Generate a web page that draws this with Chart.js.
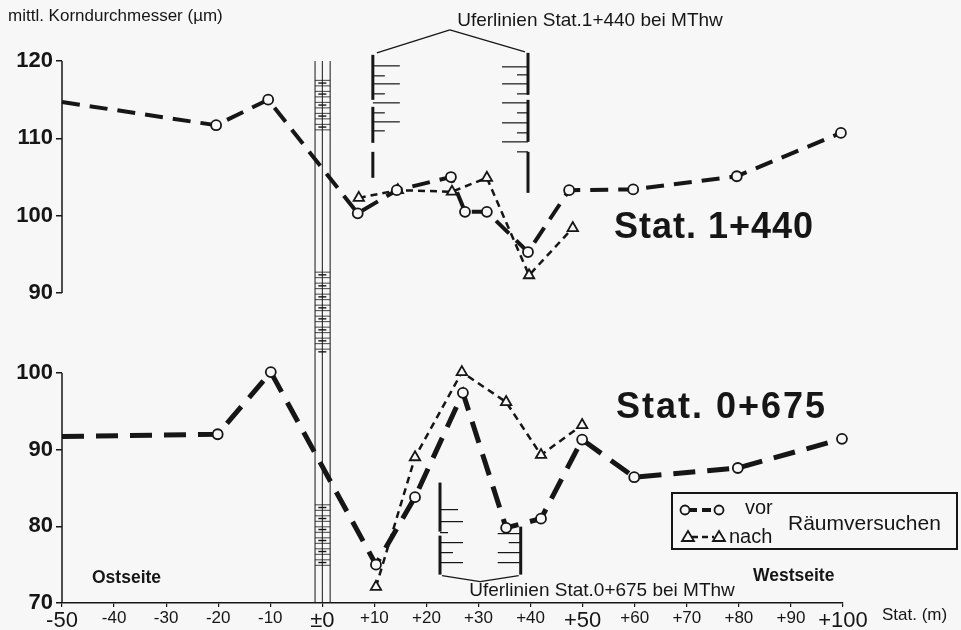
<!DOCTYPE html>
<html>
<head>
<meta charset="utf-8">
<script src="https://cdn.jsdelivr.net/npm/chart.js@4.4.1/dist/chart.umd.min.js"></script>
<style>
  html, body { margin: 0; padding: 0; background: #f7f7f7; }
  canvas { display: block; }
</style>
</head>
<body>
<canvas id="chart" width="961" height="630"></canvas>
<script>
// Stationen (m) und mittl. Korndurchmesser (µm)
// Stat. 1+440 (oben)
const xTopVor = [-50, -20.4, -10.4, 6.8, 14.3, 24.7, 27.4, 31.6, 39.5, 47.4, 59.7, 79.6, 99.6];
const topVor = [114.7, 111.7, 115.0, 100.3, 103.3, 105.0, 100.5, 100.5, 95.3, 103.3, 103.4, 105.1, 110.7];
const xTopNach = [7.0, 14.5, 24.9, 31.6, 39.7, 48.1];
const topNach = [102.3, 103.3, 103.1, 104.9, 92.3, 98.4];

// Stat. 0+675 (unten)
const xBotVor = [-50, -20.1, -9.9, 10.3, 17.8, 27.0, 35.3, 42.0, 49.9, 59.9, 79.8, 99.8];
const botVor = [91.7, 92.0, 100.1, 75.0, 83.8, 97.4, 79.8, 81.0, 91.3, 86.4, 87.6, 91.4];
const xBotNach = [10.3, 17.8, 26.8, 35.3, 42.0, 49.9];
const botNach = [72.1, 89.0, 100.1, 96.2, 89.3, 93.2];

// Achsen
const xTicks = [-50, -40, -30, -20, -10, 0, 10, 20, 30, 40, 50, 60, 70, 80, 90, 100];
const xTickLabels = ['-50', '-40', '-30', '-20', '-10', '±0', '+10', '+20', '+30', '+40', '+50', '+60', '+70', '+80', '+90', '+100'];
const xBigTicks = [-50, 0, 50, 100];
const yTopTicks = [90, 100, 110, 120];
const yBotTicks = [70, 80, 90, 100];

const INK = '#161616';
const BG = '#f7f7f7';
const FONT = '"Liberation Sans", Arial, sans-serif';

const pts = (xs, ys) => xs.map((x, i) => ({ x: x, y: ys[i] }));

function line(ctx, x1, y1, x2, y2) {
  ctx.beginPath();
  ctx.moveTo(x1, y1);
  ctx.lineTo(x2, y2);
  ctx.stroke();
}

function text(ctx, str, x, y, font, align, spacing) {
  ctx.font = font;
  ctx.textAlign = align || 'left';
  ctx.textBaseline = 'middle';
  ctx.letterSpacing = spacing || '0px';
  ctx.fillText(str, x, y);
  ctx.letterSpacing = '0px';
}

const decor = {
  id: 'decor',
  beforeDraw(chart) {
    const ctx = chart.ctx;
    ctx.save();
    ctx.fillStyle = BG;
    ctx.fillRect(0, 0, chart.width, chart.height);
    ctx.restore();
  },
  beforeDatasetsDraw(chart) {
    const { ctx, chartArea: a, scales: { x, yTop, yBot } } = chart;
    ctx.save();
    ctx.strokeStyle = INK;

    // Maßstab bei ±0
    const xl = x.getPixelForValue(-1.4), xc = x.getPixelForValue(0), xr = x.getPixelForValue(1.5);
    ctx.lineWidth = 1;
    [xl, xc, xr].forEach(px => line(ctx, px, yTop.getPixelForValue(120), px, a.bottom));
    const hatch = (y0, y1) => {
      for (let y = y0, i = 0; y <= y1; y += 5.5, i++) {
        ctx.lineWidth = 0.8;
        line(ctx, xl, y, xr, y);
        if (i % 2 === 0) { ctx.lineWidth = 1.4; line(ctx, xc - 4, y + 2.7, xc + 4, y + 2.7); }
      }
    };
    hatch(yTop.getPixelForValue(117.5), yTop.getPixelForValue(110.4));
    hatch(yTop.getPixelForValue(92.7), yTop.getPixelForValue(82.4));
    hatch(yBot.getPixelForValue(82.8), yBot.getPixelForValue(74.3));

    // Uferlinien Stat. 1+440
    const bl = x.getPixelForValue(9.7), br = x.getPixelForValue(39.5);
    const bt = yTop.getPixelForValue(120.8);
    ctx.lineWidth = 3;
    [[0, 45], [52, 88], [97, 123]].forEach(s => line(ctx, bl, bt + s[0], bl, bt + s[1]));
    [[-2, 40], [45, 87], [97, 138]].forEach(s => line(ctx, br, bt + s[0], br, bt + s[1]));
    ctx.lineWidth = 1.2;
    [11, 21, 29, 39, 48, 58, 67, 76].forEach((o, i) => line(ctx, bl, bt + o, bl + (i % 2 ? 12 : 27), bt + o));
    [12, 20, 29, 39, 48, 58, 68, 78, 87, 97].forEach((o, i) => line(ctx, br, bt + o, br - (i % 2 ? 11 : 26), bt + o));
    const ax = x.getPixelForValue(24.5);
    line(ctx, bl + 4, bt - 2, ax, bt - 25);
    line(ctx, ax, bt - 25, br - 3, bt - 3);

    // Uferlinien Stat. 0+675
    const ll = x.getPixelForValue(22.6), lr = x.getPixelForValue(38.1);
    const lb = yBot.getPixelForValue(73.7);
    ctx.lineWidth = 3;
    line(ctx, ll, yBot.getPixelForValue(85.7), ll, lb - 43);
    line(ctx, ll, lb - 39, ll, lb);
    line(ctx, lr, lb - 48, lr, lb);
    ctx.lineWidth = 1.2;
    [[-65, 18], [-53, 23], [-42, 8], [-32, 23], [-22, 13], [-12, 23]].forEach(t => line(ctx, ll, lb + t[0], ll + t[1], lb + t[0]));
    [[-41, 23], [-32, 12], [-22, 23], [-12, 23]].forEach(t => line(ctx, lr, lb + t[0], lr - t[1], lb + t[0]));
    const lx = x.getPixelForValue(30.3);
    line(ctx, ll + 2, lb + 1, lx, lb + 7);
    line(ctx, lx, lb + 7, lr - 2, lb + 1);
    ctx.restore();
  },
  afterDraw(chart) {
    const { ctx, chartArea: a, scales: { yTop, yBot } } = chart;
    ctx.save();
    ctx.strokeStyle = INK;
    ctx.fillStyle = INK;

    // y-Achsen (zwei Abschnitte)
    ctx.lineWidth = 1.5;
    line(ctx, a.left, yTop.getPixelForValue(120), a.left, yTop.getPixelForValue(90));
    line(ctx, a.left, yBot.getPixelForValue(100), a.left, a.bottom);

    text(ctx, 'mittl. Korndurchmesser (µm)', 8, 16, '17px ' + FONT);
    text(ctx, 'Uferlinien Stat.1+440 bei MThw', 590, 21, '19px ' + FONT, 'center');
    text(ctx, 'Uferlinien Stat.0+675 bei MThw', 602, 591, '19px ' + FONT, 'center');
    text(ctx, 'Stat. 1+440', 614, 228, 'bold 36px ' + FONT, 'left', '1px');
    text(ctx, 'Stat. 0+675', 616, 408, 'bold 36px ' + FONT, 'left', '2px');
    text(ctx, 'Ostseite', 92, 578, 'bold 17.5px ' + FONT);
    text(ctx, 'Westseite', 753, 576, 'bold 17.5px ' + FONT);
    text(ctx, 'Stat. (m)', 882, 615, '17px ' + FONT);

    // Legende
    ctx.lineWidth = 2;
    ctx.strokeRect(672, 493, 285, 56);
    ctx.lineWidth = 4;
    ctx.setLineDash([9, 5]);
    line(ctx, 688, 510, 716, 510);
    ctx.lineWidth = 2.5;
    ctx.setLineDash([6, 4]);
    line(ctx, 692, 537, 714, 537);
    ctx.setLineDash([]);
    ctx.lineWidth = 1.8;
    ctx.fillStyle = BG;
    [685, 719].forEach(cx => {
      ctx.beginPath();
      ctx.arc(cx, 510, 4.5, 0, Math.PI * 2);
      ctx.fill();
      ctx.stroke();
    });
    [688, 719].forEach(cx => {
      ctx.beginPath();
      ctx.moveTo(cx, 531);
      ctx.lineTo(cx + 6, 541);
      ctx.lineTo(cx - 6, 541);
      ctx.closePath();
      ctx.fill();
      ctx.stroke();
    });
    ctx.fillStyle = INK;
    text(ctx, 'vor', 745, 508, '20px ' + FONT);
    text(ctx, 'nach', 729, 537, '20px ' + FONT);
    text(ctx, 'Räumversuchen', 788, 524, '21px ' + FONT);
    ctx.restore();
  }
};

function series(label, xs, ys, axis, style, width, dash, radius, skipFirst) {
  return {
    label: label,
    data: pts(xs, ys),
    yAxisID: axis,
    showLine: true,
    borderColor: INK,
    borderWidth: width,
    borderDash: dash,
    tension: 0,
    fill: false,
    clip: false,
    pointStyle: style,
    pointRadius: xs.map((v, i) => (skipFirst && i === 0 ? 0 : radius)),
    pointBackgroundColor: BG,
    pointBorderColor: INK,
    pointBorderWidth: 1.8
  };
}

const yScale = (ticks, min, max, weight, order) => ({
  type: 'linear',
  position: 'left',
  stack: 'panels',
  stackWeight: weight,
  weight: order,
  min: min,
  max: max,
  afterBuildTicks: s => { s.ticks = ticks.map(v => ({ value: v })); },
  afterFit: s => { s.width = 62; },
  ticks: { color: INK, padding: 3, font: { family: FONT, size: 22, weight: 'bold' } },
  grid: { drawOnChartArea: false, drawTicks: true, tickLength: 6, color: INK, lineWidth: 1.5 },
  border: { display: false }
});

new Chart(document.getElementById('chart'), {
  type: 'scatter',
  data: {
    datasets: [
      series('vor', xTopVor, topVor, 'yTop', 'circle', 4, [18, 10], 5, true),
      series('nach', xTopNach, topNach, 'yTop', 'triangle', 2.5, [7, 5], 6, false),
      series('vor', xBotVor, botVor, 'yBot', 'circle', 5, [22, 12], 5, true),
      series('nach', xBotNach, botNach, 'yBot', 'triangle', 2.5, [7, 5], 6, false)
    ]
  },
  options: {
    responsive: false,
    animation: false,
    events: [],
    layout: { padding: { top: 55, right: 118, bottom: 0, left: 0 } },
    plugins: { legend: { display: false }, tooltip: { enabled: false } },
    scales: {
      x: {
        type: 'linear',
        min: -50,
        max: 100,
        afterBuildTicks: s => { s.ticks = xTicks.map(v => ({ value: v })); },
        afterFit: s => { s.height = 27; },
        ticks: {
          color: INK,
          padding: 1,
          maxRotation: 0,
          autoSkip: false,
          callback: (v, i) => xTickLabels[i],
          font: c => ({ family: FONT, size: xBigTicks.includes(c.tick && c.tick.value) ? 22 : 17 })
        },
        grid: { drawOnChartArea: false, drawTicks: true, tickLength: 4, color: INK, lineWidth: 1.2 },
        border: { color: INK, width: 1.5 }
      },
      yTop: yScale(yTopTicks, 84.83, 120.78, 278, 2),
      yBot: yScale(yBotTicks, 70, 105.2, 270, 1)
    }
  },
  plugins: [decor]
});
</script>
</body>
</html>
